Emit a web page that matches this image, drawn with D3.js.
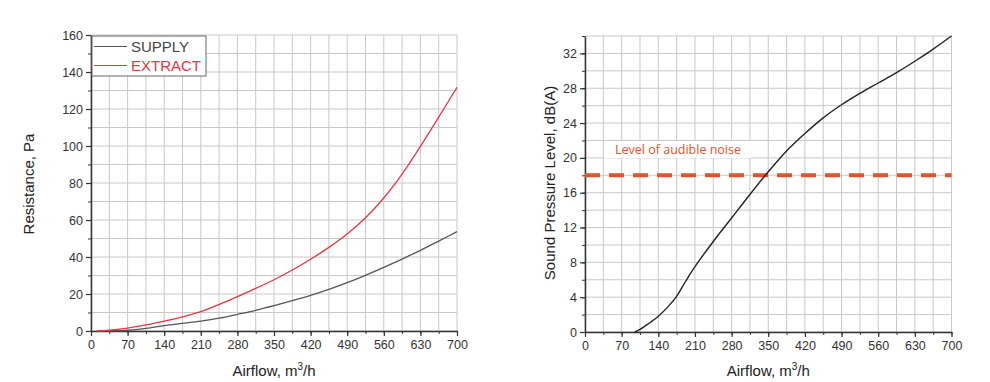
<!DOCTYPE html>
<html>
<head>
<meta charset="utf-8">
<script src="https://cdn.jsdelivr.net/npm/d3@7"></script>
<style>
  html, body { margin: 0; padding: 0; background: #fff; }
  svg { display: block; }
</style>
</head>
<body>
<svg id="chart" width="990" height="382"></svg>
<script>
// ---------- DATA ----------
const airflowTicks = [0, 70, 140, 210, 280, 350, 420, 490, 560, 630, 700];
const resistanceTicks = [0, 20, 40, 60, 80, 100, 120, 140, 160];
const splTicks = [0, 4, 8, 12, 16, 20, 24, 28, 32];

const resistanceAirflow = [12, 35, 70, 105, 140, 175, 210, 245, 280, 315, 350, 385, 420, 455, 490, 525, 560, 595, 630, 665, 700];
const supplyValues      = [0, 0.1, 0.4, 1.4, 2.9, 4.1, 5.3, 6.9, 9.0, 11.2, 13.7, 16.4, 19.3, 22.5, 26.1, 30.1, 34.4, 38.9, 43.6, 48.6, 53.7];
const extractValues     = [0, 0.5, 1.6, 3.3, 5.4, 7.7, 10.5, 14.3, 18.6, 23.0, 27.7, 33.0, 38.8, 45.2, 52.4, 61.2, 71.9, 84.8, 99.8, 115.6, 131.7];

const splAirflow = [95, 105, 120, 140, 160, 175, 192, 210, 245, 280, 315, 350, 385, 420, 455, 490, 525, 560, 595, 630, 665, 700];
const splValues  = [0, 0.3, 0.9, 1.8, 3.0, 4.1, 5.8, 7.5, 10.4, 13.1, 15.8, 18.4, 20.8, 22.8, 24.6, 26.1, 27.4, 28.6, 29.8, 31.1, 32.5, 34.0];

const audibleLevel = 18;
const seriesNames = ["SUPPLY", "EXTRACT"];
const annotationText = "Level of audible noise";

// ---------- DRAW ----------
const svg = d3.select("#chart");
const gridColor = "#c8c8c8";
const axisColor = "#333";
const font = "'Liberation Sans', Arial, sans-serif";

function drawPanel(opts) {
  const g = svg.append("g");
  const x = d3.scaleLinear().domain([0, 700]).range(opts.xr);
  const y = d3.scaleLinear().domain(opts.ydom).range(opts.yr);

  // grid
  const xg = d3.range(0, 701, 35);
  const yg = d3.range(opts.ydom[0], opts.ydom[1] + 0.001, opts.yMinor);
  g.append("g").selectAll("line").data(xg).join("line")
    .attr("x1", d => x(d)).attr("x2", d => x(d))
    .attr("y1", y(opts.ydom[0])).attr("y2", y(opts.ydom[1]))
    .attr("stroke", gridColor).attr("stroke-width", 1);
  g.append("g").selectAll("line").data(yg).join("line")
    .attr("x1", x(0)).attr("x2", x(700))
    .attr("y1", d => y(d)).attr("y2", d => y(d))
    .attr("stroke", gridColor).attr("stroke-width", 1);

  // minor ticks
  const xAxisMinor = d3.axisBottom(x).tickValues(xg).tickSize(3).tickFormat("");
  const yAxisMinor = d3.axisLeft(y).tickValues(yg).tickSize(3).tickFormat("");
  g.append("g").attr("transform", `translate(0,${y(opts.ydom[0])})`).call(xAxisMinor)
    .call(a => a.select(".domain").remove())
    .selectAll("line").attr("stroke", axisColor);
  g.append("g").attr("transform", `translate(${x(0)},0)`).call(yAxisMinor)
    .call(a => a.select(".domain").remove())
    .selectAll("line").attr("stroke", axisColor);

  // major axes
  const xAxis = d3.axisBottom(x).tickValues(airflowTicks).tickSize(5).tickSizeOuter(0).tickPadding(4);
  const yAxis = d3.axisLeft(y).tickValues(opts.yTicks).tickSize(5).tickSizeOuter(0).tickPadding(3);
  const xa = g.append("g").attr("transform", `translate(0,${y(opts.ydom[0])})`).call(xAxis);
  const ya = g.append("g").attr("transform", `translate(${x(0)},0)`).call(yAxis);
  [xa, ya].forEach(a => {
    a.select(".domain").attr("stroke", axisColor).attr("stroke-width", 1.5);
    a.selectAll(".tick line").attr("stroke", axisColor).attr("stroke-width", 1.2);
    a.selectAll("text").attr("font-family", font).attr("font-size", 12.5).attr("fill", "#333");
  });

  // axis titles
  const xt = g.append("text")
    .attr("x", (opts.xr[0] + opts.xr[1]) / 2).attr("y", 376)
    .attr("text-anchor", "middle").attr("font-family", font).attr("font-size", 15).attr("fill", "#222");
  xt.append("tspan").text("Airflow, m");
  xt.append("tspan").attr("font-size", 10).attr("dy", -6).text("3");
  xt.append("tspan").attr("dy", 6).text("/h");

  g.append("text")
    .attr("transform", `translate(${opts.ylabX},${opts.ylabY}) rotate(-90)`)
    .attr("text-anchor", "middle").attr("font-family", font).attr("font-size", 15).attr("fill", "#222")
    .text(opts.ylabel);

  return { g, x, y };
}

// Left panel
const L = drawPanel({
  xr: [91, 457], ydom: [0, 160], yr: [331, 35], yMinor: 10,
  yTicks: resistanceTicks, ylabel: "Resistance, Pa", ylabX: 34, ylabY: 184
});
const lineL = d3.line().x((d, i) => L.x(resistanceAirflow[i])).y(d => L.y(d)).curve(d3.curveCatmullRom.alpha(0.5));
L.g.append("path").datum(supplyValues).attr("d", lineL)
  .attr("fill", "none").attr("stroke", "#555").attr("stroke-width", 1.3);
L.g.append("path").datum(extractValues).attr("d", lineL)
  .attr("fill", "none").attr("stroke", "#e8363e").attr("stroke-width", 1.3);

// Legend
const leg = L.g.append("g");
leg.append("rect").attr("x", 92).attr("y", 36).attr("width", 114).attr("height", 40)
  .attr("fill", "#fff").attr("stroke", "#666").attr("stroke-width", 1);
const legColors = ["#555", "#e8363e"];
seriesNames.forEach((n, i) => {
  const yy = 46.5 + i * 19;
  leg.append("line").attr("x1", 94).attr("x2", 127).attr("y1", yy).attr("y2", yy)
    .attr("stroke", legColors[i]).attr("stroke-width", 1.2);
  leg.append("text").attr("x", 131).attr("y", yy + 5.5)
    .attr("font-family", font).attr("font-size", 15).attr("fill", i === 0 ? "#444" : "#e8363e")
    .text(n);
});

// Right panel
const R = drawPanel({
  xr: [585, 951.5], ydom: [0, 34], yr: [332, 36], yMinor: 2,
  yTicks: splTicks, ylabel: "Sound Pressure Level, dB(A)", ylabX: 555, ylabY: 183
});
// annotation label box
R.g.append("rect").attr("x", 604).attr("y", 141).attr("width", 147).attr("height", 17).attr("fill", "#fff");
R.g.append("text").attr("x", 615).attr("y", 154)
  .attr("font-family", "'Open Sans', sans-serif").attr("font-size", 12.5).attr("fill", "#e0552c")
  .text(annotationText);
// dashed line
R.g.append("line").attr("x1", R.x(0)).attr("x2", R.x(700))
  .attr("y1", R.y(audibleLevel)).attr("y2", R.y(audibleLevel))
  .attr("stroke", "#e0552c").attr("stroke-width", 4).attr("stroke-dasharray", "15,9");
const lineR = d3.line().x((d, i) => R.x(splAirflow[i])).y(d => R.y(d)).curve(d3.curveCatmullRom.alpha(0.5));
R.g.append("path").datum(splValues).attr("d", lineR)
  .attr("fill", "none").attr("stroke", "#222").attr("stroke-width", 1.4);
</script>
</body>
</html>
